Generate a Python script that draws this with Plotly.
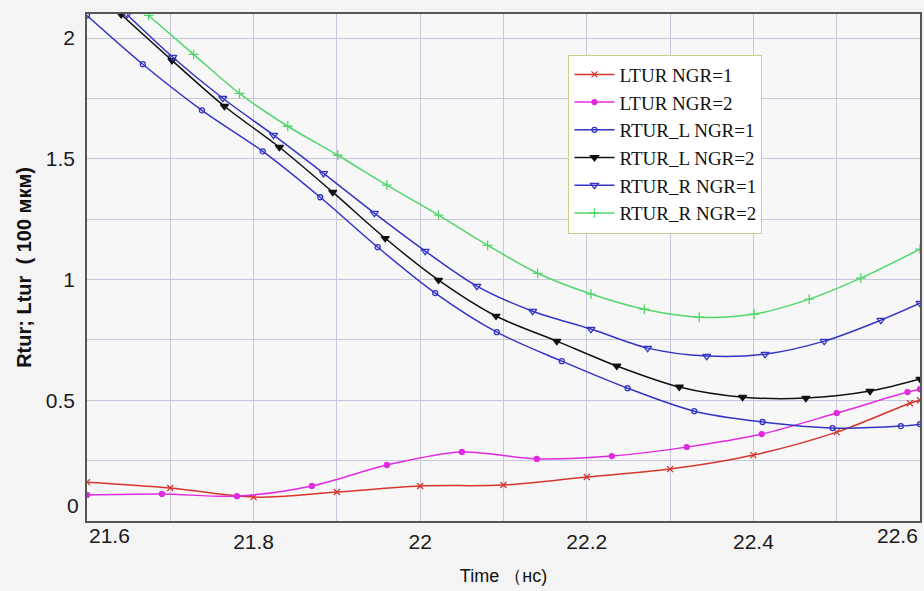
import plotly.graph_objects as go

# ---- data ----
t_ltur1 = [21.6, 21.7, 21.8, 21.9, 22.0, 22.1, 22.2, 22.3, 22.4, 22.5, 22.588, 22.6]
v_ltur1 = [0.161, 0.137, 0.099, 0.120, 0.145, 0.149, 0.182, 0.215, 0.273, 0.368, 0.488, 0.500]

t_ltur2 = [21.6, 21.69, 21.78, 21.87, 21.96, 22.05, 22.14, 22.23, 22.32, 22.41, 22.50, 22.585, 22.6]
v_ltur2 = [0.108, 0.112, 0.103, 0.145, 0.232, 0.286, 0.257, 0.269, 0.306, 0.360, 0.447, 0.534, 0.546]

t_rl1 = [21.6, 21.667, 21.738, 21.811, 21.880, 21.949, 22.018, 22.092, 22.170, 22.249, 22.329, 22.411, 22.495, 22.577, 22.6]
v_rl1 = [2.094, 1.892, 1.701, 1.531, 1.341, 1.134, 0.944, 0.782, 0.662, 0.550, 0.455, 0.410, 0.385, 0.393, 0.401]

t_rl2 = [21.641, 21.702, 21.765, 21.831, 21.895, 21.958, 22.022, 22.091, 22.164, 22.236, 22.311, 22.387, 22.463, 22.540, 22.6]
v_rl2 = [2.098, 1.908, 1.718, 1.548, 1.362, 1.171, 0.998, 0.849, 0.745, 0.642, 0.555, 0.513, 0.509, 0.538, 0.588]

t_rr1 = [21.648, 21.703, 21.763, 21.824, 21.884, 21.945, 22.006, 22.068, 22.135, 22.205, 22.273, 22.344, 22.414, 22.485, 22.553, 22.6]
v_rr1 = [2.098, 1.921, 1.751, 1.598, 1.440, 1.275, 1.118, 0.973, 0.869, 0.795, 0.716, 0.683, 0.691, 0.745, 0.832, 0.902]

t_rr2 = [21.674, 21.728, 21.783, 21.841, 21.901, 21.960, 22.022, 22.081, 22.141, 22.205, 22.269, 22.335, 22.401, 22.467, 22.529, 22.6]
v_rr2 = [2.094, 1.933, 1.771, 1.635, 1.515, 1.391, 1.267, 1.142, 1.026, 0.940, 0.877, 0.844, 0.857, 0.919, 1.006, 1.126]

series_names = ["LTUR NGR=1", "LTUR NGR=2", "RTUR_L NGR=1", "RTUR_L NGR=2", "RTUR_R NGR=1", "RTUR_R NGR=2"]

x_tickvals = [21.8, 22.0, 22.2, 22.4]
x_ticktext = ["21.8", "22", "22.2", "22.4"]
y_tickvals = [0.5, 1.0, 1.5, 2.0]
y_ticktext = ["0.5", "1", "1.5", "2"]

# ---- styles ----
styles = [
    dict(color="#d4362c", symbol="x-thin", size=6),
    dict(color="#e02ae0", symbol="circle", size=5),
    dict(color="#3434c4", symbol="circle-open", size=5),
    dict(color="#111111", symbol="triangle-down", size=7),
    dict(color="#3434c4", symbol="triangle-down-open", size=7),
    dict(color="#52d66a", symbol="cross-thin", size=7),
]
data = [(t_ltur1, v_ltur1), (t_ltur2, v_ltur2), (t_rl1, v_rl1),
        (t_rl2, v_rl2), (t_rr1, v_rr1), (t_rr2, v_rr2)]

fig = go.Figure()
for (tx, vy), name, st in zip(data, series_names, styles):
    fig.add_trace(go.Scatter(
        x=tx, y=vy, name=name, mode="lines+markers",
        line=dict(color=st["color"], width=1.5, shape="spline", smoothing=0.9),
        marker=dict(symbol=st["symbol"], size=st["size"], color=st["color"],
                    line=dict(color=st["color"], width=1.3)),
    ))

grid_col = "#c6c6dc"
tick_font = dict(family="Liberation Sans, Arial, sans-serif", size=21, color="#1a1a1a")

fig.update_layout(
    width=924, height=591,
    margin=dict(l=87, r=2, t=14, b=70),
    paper_bgcolor="#f4f4f4",
    plot_bgcolor="#f7f7f8",
    showlegend=True,
    legend=dict(
        x=0.578, y=0.92, xanchor="left", yanchor="top",
        bgcolor="#ffffff", bordercolor="#cfcf8a", borderwidth=1,
        font=dict(family="Liberation Serif, Times New Roman, serif", size=19, color="#111"),
        tracegroupgap=0, itemwidth=40,
    ),
    xaxis=dict(
        range=[21.6, 22.6], tickvals=x_tickvals, ticktext=x_ticktext,
        showgrid=True, gridcolor=grid_col, gridwidth=1,
        minor=dict(dtick=0.1, tick0=21.6, showgrid=True, gridcolor=grid_col, gridwidth=1),
        showline=True, linecolor="#555", linewidth=1.5, mirror=True,
        ticks="", ticklabelstandoff=1, tickfont=tick_font, zeroline=False,
        title=dict(text="Time （нс)", font=dict(family="Liberation Sans, Arial, sans-serif", size=18, color="#111"),
                   standoff=17),
    ),
    yaxis=dict(
        range=[0, 2.1], tickvals=y_tickvals, ticktext=y_ticktext,
        showgrid=True, gridcolor=grid_col, gridwidth=1,
        minor=dict(dtick=0.25, tick0=0, showgrid=True, gridcolor=grid_col, gridwidth=1),
        showline=True, linecolor="#555", linewidth=1.5, mirror=True,
        ticks="", ticklabelstandoff=6, tickfont=tick_font, zeroline=False,
        title=dict(text="<b>Rtur; Ltur  ( 100 мкм)</b>",
                   font=dict(family="Liberation Sans, Arial, sans-serif", size=20, color="#111"),
                   standoff=9),
    ),
)

# edge tick labels placed inside like the reference
fig.add_annotation(text="21.6", x=21.6, xref="x", y=0, yref="paper", xanchor="left",
                   yanchor="top", yshift=-1, showarrow=False, font=tick_font)
fig.add_annotation(text="22.6", x=22.6, xref="x", y=0, yref="paper", xanchor="right",
                   yanchor="top", yshift=-1, showarrow=False, font=tick_font)
fig.add_annotation(text="0", x=0, xref="paper", y=0, yref="y", xanchor="right",
                   yanchor="bottom", xshift=-6, yshift=2, showarrow=False, font=tick_font)

fig.write_html("out.html")
